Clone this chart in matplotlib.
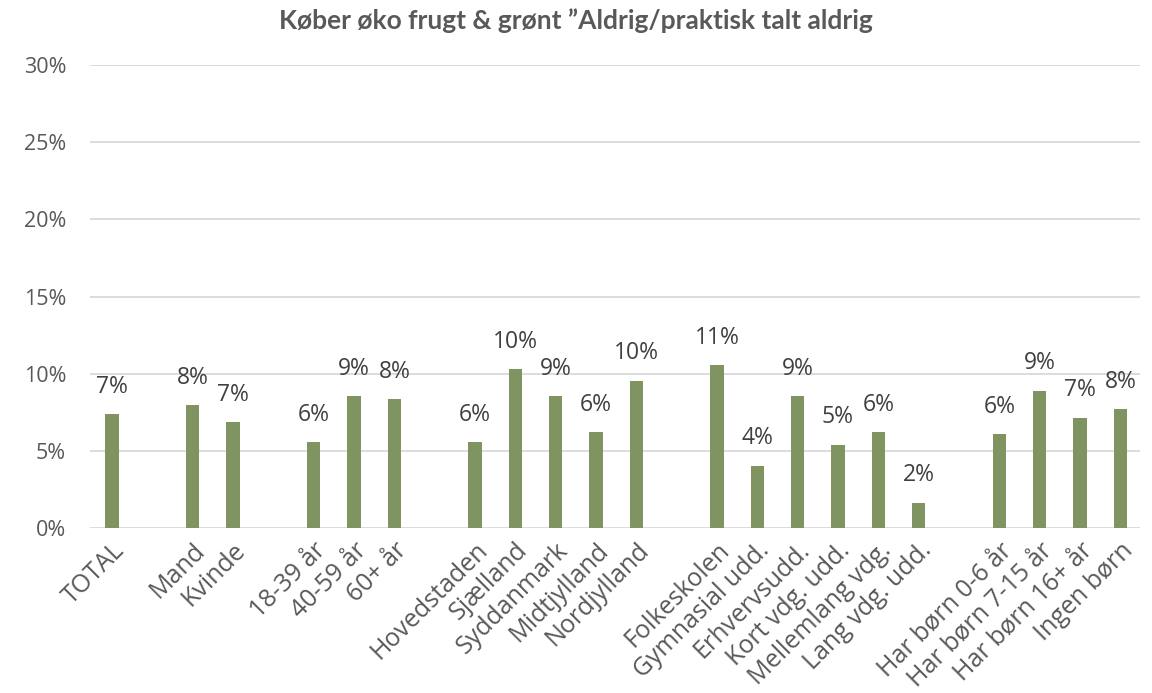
import numpy as np
import matplotlib
matplotlib.use("Agg")
import matplotlib.pyplot as plt
from matplotlib.ticker import PercentFormatter

# data (andel i %), tomme pladser = None giver mellemrum mellem grupperne
categories = ["TOTAL", "",
              "Mand", "Kvinde", "",
              "18-39 år", "40-59 år", "60+ år", "",
              "Hovedstaden", "Sjælland", "Syddanmark", "Midtjylland", "Nordjylland", "",
              "Folkeskolen", "Gymnasial udd.", "Erhvervsudd.", "Kort vdg. udd.",
              "Mellemlang vdg.", "Lang vdg. udd.", "",
              "Har børn 0-6 år", "Har børn 7-15 år", "Har børn 16+ år", "Ingen børn"]
values = [7.4, None,
          7.95, 6.85, None,
          5.55, 8.55, 8.35, None,
          5.55, 10.3, 8.55, 6.2, 9.55, None,
          10.55, 4.05, 8.55, 5.4, 6.2, 1.65, None,
          6.1, 8.9, 7.15, 7.7]

title = "Køber øko frugt & grønt \u201dAldrig/praktisk talt aldrig"
bar_color = "#7F9460"
text_color = "#595959"

fig = plt.figure(figsize=(11.52, 6.93), dpi=100)
ax = fig.add_axes([0.078, 0.238, 0.912, 0.668])

x = np.arange(len(categories))
for xi, v in zip(x, values):
    if v is None:
        continue
    ax.bar(xi, v, width=0.33, color=bar_color, zorder=3)
    ax.annotate(f"{v:.0f}%", (xi, v), xytext=(0, 11), textcoords="offset points",
                ha="center", va="bottom", fontsize=16.5, color="#404040",
                family="Open Sans")

ax.set_ylim(0, 30)
ax.set_xlim(-0.55, len(categories) - 0.5)
ax.set_yticks(np.arange(0, 31, 5))
ax.yaxis.set_major_formatter(PercentFormatter(decimals=0))
ax.grid(axis="y", color="#D9D9D9", linewidth=1.3, zorder=0)
for s in ax.spines.values():
    s.set_visible(False)
ax.tick_params(axis="both", length=0)
ax.tick_params(axis="y", labelsize=15.5, labelcolor=text_color, pad=17)
for lab in ax.get_yticklabels():
    lab.set_family("Open Sans")

ax.set_xticks(x)
ax.set_xticklabels(categories, rotation=45, ha="right", rotation_mode="anchor",
                   fontsize=18, color=text_color, family="Open Sans")
ax.tick_params(axis="x", pad=7)

fig.text(0.5, 0.97, title, ha="center", va="center", fontsize=19,
         fontweight="bold", color=text_color, family="Lato")

fig.savefig("out.png", dpi=100)
